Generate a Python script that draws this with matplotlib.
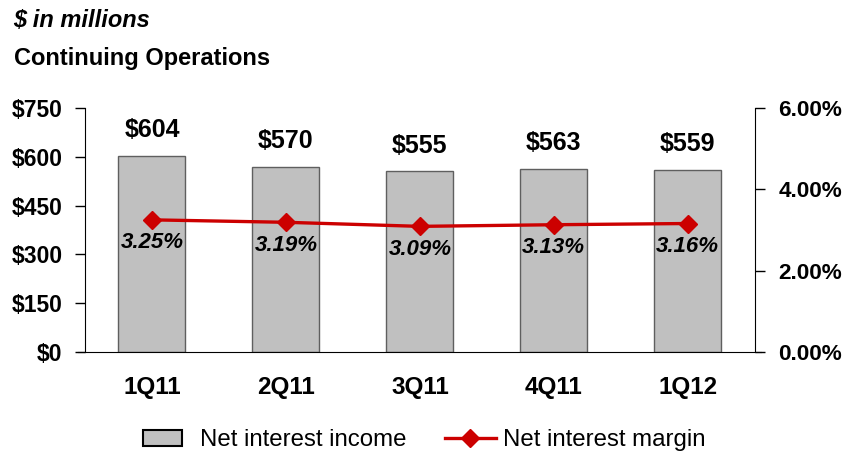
import matplotlib.pyplot as plt
from matplotlib.patches import Rectangle
from matplotlib.legend_handler import HandlerPatch
from matplotlib.ticker import FuncFormatter

plt.rcParams['font.family'] = ['Liberation Sans', 'DejaVu Sans']

quarters = ['1Q11', '2Q11', '3Q11', '4Q11', '1Q12']
income = [604, 570, 555, 563, 559]
margin = [3.25, 3.19, 3.09, 3.13, 3.16]

fig = plt.figure(figsize=(8.48, 4.54), dpi=100)
ax = fig.add_axes([0.1002, 0.2247, 0.7898, 0.5373])
ax2 = ax.twinx()

x = list(range(len(quarters)))
bars = ax.bar(x, income, width=0.5, color='#C0C0C0', edgecolor='#5f5f5f',
              linewidth=1.0, zorder=2, label='Net interest income')
ax.set_xlim(-0.5, 4.5)
ax.set_ylim(0, 750)
ax.set_yticks([0, 150, 300, 450, 600, 750])
ax.yaxis.set_major_formatter(FuncFormatter(lambda v, p: '${:,.0f}'.format(v)))
ax.set_xticks(x)
ax.set_xticklabels(quarters, fontsize=17.5, fontweight='bold')
ax.tick_params(axis='x', length=0, pad=17)
ax.tick_params(axis='y', direction='out', length=7, width=1, labelsize=16.5, pad=9)
for lbl in ax.get_yticklabels():
    lbl.set_fontweight('bold')

for xi, v in zip(x, income):
    ax.annotate('${}'.format(v), (xi, v), xytext=(0, 10), textcoords='offset points',
                ha='center', va='bottom', fontsize=18, fontweight='bold')

line, = ax2.plot(x, margin, color='#CC0000', linewidth=2.4, marker='D',
                 markersize=9, zorder=3, label='Net interest margin')
ax2.set_ylim(0, 6)
ax2.set_yticks([0, 2, 4, 6])
ax2.yaxis.set_major_formatter(FuncFormatter(lambda v, p: '{:.2f}%'.format(v)))
ax2.tick_params(axis='y', direction='out', length=7, width=1, labelsize=16.2, pad=10)
for lbl in ax2.get_yticklabels():
    lbl.set_fontweight('bold')

for xi, m in zip(x, margin):
    ax2.annotate('{:.2f}%'.format(m), (xi, m), xytext=(0, -9), textcoords='offset points',
                 ha='center', va='top', fontsize=16, fontweight='bold', style='italic')

for a in (ax, ax2):
    a.spines['top'].set_visible(False)
    a.set_zorder(1)
ax2.set_zorder(2)
ax.spines['right'].set_visible(False)
ax2.spines['left'].set_visible(False)
ax2.spines['bottom'].set_visible(False)
ax.spines['bottom'].set_bounds(-0.55, 4.55)

fig.text(0.016, 0.955, '$ in millions', fontsize=17, fontweight='bold',
         style='italic', va='center')
fig.text(0.016, 0.872, 'Continuing Operations', fontsize=17, fontweight='bold',
         va='center')


# smaller box than the line handle, like the original legend
def small_box(legend, orig_handle, xdescent, ydescent, width, height, fontsize):
    h = 11.5
    return Rectangle((-xdescent, -ydescent + (height - h) / 2), width * 0.78, h)


leg = fig.legend([bars.patches[0], line], ['Net interest income', 'Net interest margin'],
                 loc='center', bbox_to_anchor=(0.5, 0.03), ncol=2, frameon=False,
                 fontsize=17.3, handlelength=2.1, handleheight=0.7, columnspacing=1.6,
                 handletextpad=0.3,
                 handler_map={Rectangle: HandlerPatch(patch_func=small_box)})

for h in leg.legend_handles:
    if isinstance(h, Rectangle):
        h.set_facecolor('#C0C0C0')
        h.set_edgecolor('black')
        h.set_linewidth(1.5)

fig.savefig('out.png', dpi=100)
